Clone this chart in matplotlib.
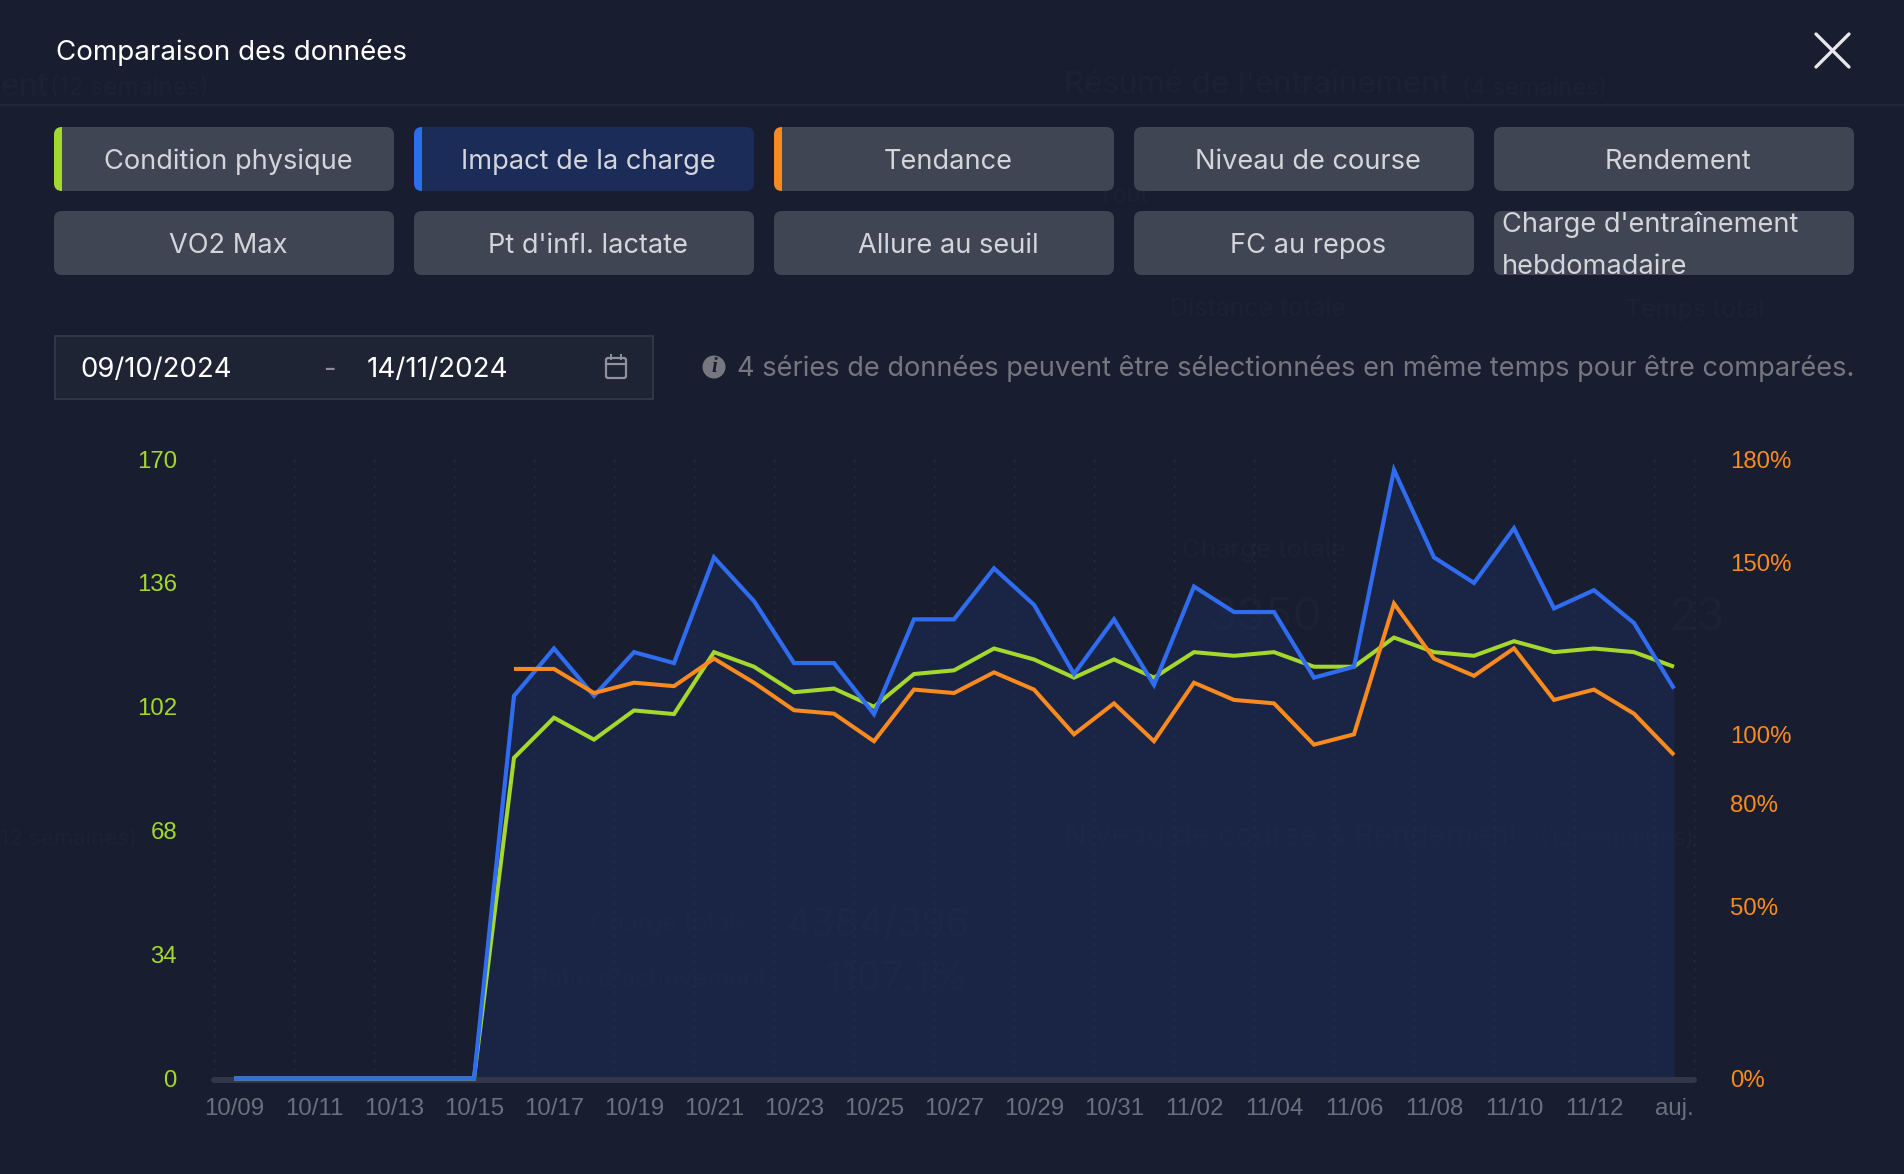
import numpy as np
import matplotlib
matplotlib.use("Agg")
import matplotlib.pyplot as plt
from matplotlib.patches import FancyBboxPatch, Rectangle, Circle

tick_labels = ["10/09","10/11","10/13","10/15","10/17","10/19","10/21","10/23","10/25","10/27",
               "10/29","10/31","11/02","11/04","11/06","11/08","11/10","11/12","auj."]
condition = [0,0,0,0,0,0,0,88,99,93,101,100,117,113,106,107,102,111,112,118,115,110,115,110,117,116,117,113,113,121,117,116,120,117,118,117,113]
impact = [0,0,0,0,0,0,0,105,118,105,117,114,143,131,114,114,100,126,126,140,130,111,126,108,135,128,128,110,113,167,143,136,151,129,134,125,107]
nan = float("nan")
tendance = [nan,nan,nan,nan,nan,nan,nan,119,119,112,115,114,122,115,107,106,98,113,112,118,113,100,109,98,115,110,109,97,100,138,122,117,125,110,113,106,94]
left_ticks = [0,34,68,102,136,170]
right_ticks = [0,50,80,100,150,180]
row1 = ["Condition physique","Impact de la charge","Tendance","Niveau de course","Rendement"]
row2 = ["VO2 Max","Pt d'infl. lactate","Allure au seuil","FC au repos"]

BG="#181e2f"; BTN="#404554"; ACT="#1c2c59"; GREEN="#a5d82c"; BLUE="#2f6cf0"; ORANGE="#fb8a1e"
UI="Inter"; TK="Liberation Sans"
W,H=1904,1174
fig=plt.figure(figsize=(W/100,H/100),dpi=100,facecolor=BG)
ui=fig.add_axes([0,0,1,1],zorder=0); ui.set_xlim(0,W); ui.set_ylim(H,0); ui.axis("off")

# faint ghost page behind the dialog
GH="#1c2233"
for x,y,s,fs in [(1064,85,"Résumé de l'entraînement",22.5),(1462,89,"(4 semaines)",17),(0,87,"ent",23),(50,89,"(12 semaines)",17.5),
                 (1098,196,"Tout",17),(1170,310,"Distance totale",18),(1625,310,"Temps total",18),
                 (1182,551,"Charge totale",18.5),(1208,618,"3350",33),(1668,618,"23",33),
                 (1064,837,"Niveau de course & Rendement",22),(1540,839,"(12 semaines)",17),(0,839,"12 semaines)",16),
                 (591,925,"Charge totale",18),(786,925,"4384/396",28),(532,980,"Ratio d'achèvement",18),(825,980,"1107.1%",28)]:
    ui.text(x,y,s,color=GH,fontsize=fs,family=UI,va="center",ha="left",zorder=0.5)

ui.plot([0,W],[105,105],color="#232938",lw=1.2)
ui.text(56,53,"Comparaison des données",color="#ffffff",fontsize=20,family=UI,va="center")
ui.plot([1816,1849],[34,67],color="#e6e7ea",lw=2.4,solid_capstyle="round")
ui.plot([1816,1849],[67,34],color="#e6e7ea",lw=2.4,solid_capstyle="round")

def button(x0,x1,y0,y1,fc=BTN):
    p=FancyBboxPatch((x0,y0),x1-x0,y1-y0,boxstyle="round,pad=0,rounding_size=8",fc=fc,ec="none")
    ui.add_patch(p); return p

xs=[(54,394),(414,754),(774,1114),(1134,1474),(1494,1854)]
strips={0:GREEN,1:BLUE,2:ORANGE}
TXT="#d3d5da"
FS=19.6
for i,(a,b) in enumerate(xs):
    p=button(a,b,127,191,ACT if i==1 else BTN)
    if i in strips:
        r=Rectangle((a,127),8,64,fc=strips[i],ec="none"); ui.add_patch(r); r.set_clip_path(p)
    ui.text((a+b)/2+4,162,row1[i],color=TXT,fontsize=FS,family=UI,ha="center",va="center")
for i,(a,b) in enumerate(xs[:4]):
    button(a,b,211,275)
    ui.text((a+b)/2+4,246,row2[i],color=TXT,fontsize=FS,family=UI,ha="center",va="center")
p=button(*xs[4],211,275)
for y,s in [(225,"Charge d'entraînement"),(267,"hebdomadaire")]:
    t=ui.text(1502,y,s,color=TXT,fontsize=FS,family=UI,ha="left",va="center"); t.set_clip_path(p)

ui.add_patch(Rectangle((54.5,335.5),598,63,fc="#1f2434",ec="#373c4a",lw=1.2))
ui.text(80,370,"09/10/2024",color="#ffffff",fontsize=19.8,family=UI,va="center")
ui.text(329,370,"-",color="#8a8d97",fontsize=FS,family=UI,va="center",ha="center")
ui.text(367,370,"14/11/2024",color="#ffffff",fontsize=20,family=UI,va="center")
ui.add_patch(FancyBboxPatch((606,358),20,20,boxstyle="round,pad=0,rounding_size=2",fc="none",ec="#8f929b",lw=1.6))
ui.plot([606,626],[364,364],color="#8f929b",lw=1.6)
ui.plot([611,611],[355,359],color="#8f929b",lw=1.4)
ui.plot([621,621],[355,359],color="#8f929b",lw=1.4)
ui.add_patch(Circle((714,367),11.5,fc="#75787f",ec="none"))
ui.text(714,367.5,"i",color=BG,fontsize=15,family="Liberation Serif",weight="bold",style="italic",ha="center",va="center")
ui.text(737,369,"4 séries de données peuvent être sélectionnées en même temps pour être comparées.",
        color="#74777f",fontsize=FS,family=UI,va="center")

# chart
L,R,T,B=211,1697,459,1078.5
ax=fig.add_axes([L/W,1-B/H,(R-L)/W,(B-T)/H],zorder=1); ax.patch.set_alpha(0)
days=np.arange(len(impact))
ax.set_xlim((L-234)/40,(R-234)/40); ax.set_ylim(0,170)
for s in ax.spines.values(): s.set_visible(False)
sb=ax.spines["bottom"]; sb.set_visible(True); sb.set_color("#32384a"); sb.set_linewidth(4.3); sb.set_position(("outward",1)); sb.set_capstyle("round")
sb.set_bounds((214-234)/40,(1694-234)/40)
ax.fill_between(days[6:],np.array(impact[6:]),0,color="#1c2c5d",alpha=0.5,lw=0,zorder=1)
for g in np.arange(-0.5,36,2).tolist()+[36.5]:
    ax.axvline(g,color="#272d40",lw=1,ls=(0,(2,4)),zorder=1.5)
ax.plot(days,condition,color=GREEN,lw=2.9,zorder=3,clip_on=False,solid_joinstyle="miter",solid_capstyle="butt")
ax.plot(days,impact,color=BLUE,lw=3.0,zorder=4,clip_on=False,solid_joinstyle="miter",solid_capstyle="butt")
ax.set_xticks(np.arange(len(tick_labels))*2,tick_labels,family=TK,fontsize=17.3,color="#6b707d")
ax.set_yticks(left_ticks,[str(v) for v in left_ticks],family=TK,fontsize=17.3,color=GREEN)
ax.tick_params(axis="both",length=0)
ax.tick_params(axis="y",pad=24.5)
ax.tick_params(axis="x",pad=13)
ax2=ax.twinx(); ax2.patch.set_alpha(0)
ax2.set_ylim(0,180)
for s in ax2.spines.values(): s.set_visible(False)
ax2.plot(days,tendance,color=ORANGE,lw=2.9,zorder=5,solid_joinstyle="miter",solid_capstyle="butt")
ax2.set_yticks(right_ticks,[f"{v}%" for v in right_ticks],family=TK,fontsize=17.3,color=ORANGE)
ax2.tick_params(axis="y",length=0,pad=23.7)
ax.set_xlim((L-234)/40,(R-234)/40)
fig.savefig("out.png",dpi=100,facecolor=BG)
